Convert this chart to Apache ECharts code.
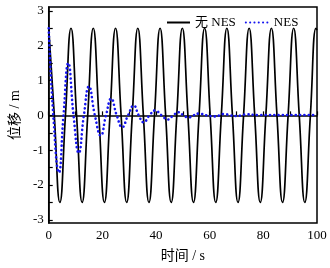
<!DOCTYPE html>
<html>
<head>
<meta charset="utf-8">
<script src="https://cdn.jsdelivr.net/npm/echarts@6/dist/echarts.min.js"></script>
<style>
  html, body { margin: 0; padding: 0; background: #fff; }
  #main { width: 330px; height: 268px; }
</style>
</head>
<body>
<div id="main"></div>
<script>
var seriesNames = ['无 NES', 'NES'];

// 无 NES: read at peaks, zero crossings and troughs
var noNesTime = [0, 2.08, 4.15, 6.23, 8.3, 10.38, 12.45, 14.53, 16.6, 18.68, 20.75, 22.83,
  24.9, 26.98, 29.05, 31.13, 33.2, 35.28, 37.35, 39.43, 41.5, 43.58, 45.65, 47.73,
  49.8, 51.88, 53.95, 56.03, 58.1, 60.18, 62.25, 64.33, 66.4, 68.48, 70.55, 72.63,
  74.7, 76.78, 78.85, 80.93, 83.0, 85.08, 87.15, 89.23, 91.3, 93.38, 95.45, 97.53, 99.6, 100];
var noNesValue = [2.5, 0, -2.5, 0, 2.5, 0, -2.5, 0, 2.5, 0, -2.5, 0,
  2.5, 0, -2.5, 0, 2.5, 0, -2.5, 0, 2.5, 0, -2.5, 0,
  2.5, 0, -2.5, 0, 2.5, 0, -2.5, 0, 2.5, 0, -2.5, 0,
  2.5, 0, -2.5, 0, 2.5, 0, -2.5, 0, 2.5, 0, -2.5, 0, 2.5, 2.45];

// NES: damped response
var nesTime = [0, 1.7, 3.8, 5.5, 7.3, 9.25, 11.2, 13.1, 15.0, 17.2, 19.4, 21.35, 23.3,
  25.35, 27.4, 29.55, 31.7, 33.55, 35.4, 37.55, 39.7, 42.05, 44.4, 46.4, 48.4,
  50.25, 52.1, 53.95, 55.8, 58.9, 62.0, 63.7, 65.4, 67.7, 70.0, 71.85, 73.7, 78, 100];
var nesValue = [2.5, 0, -1.64, 0, 1.5, 0, -1.08, 0, 0.83, 0, -0.58, 0, 0.48,
  0, -0.34, 0, 0.28, 0, -0.2, 0, 0.14, 0, -0.12, 0, 0.09,
  0, -0.06, 0, 0.05, 0, -0.03, 0, 0.04, 0, -0.02, 0, 0.03, 0.01, 0.01];

var yTicks = [-3, -2.5, -2, -1.5, -1, -0.5, 0, 0.5, 1, 1.5, 2, 2.5, 3];
var yLabels = [-3, -2, -1, 0, 1, 2, 3];

function pairs(xs, ys) {
  return xs.map(function (x, i) { return [x, ys[i]]; });
}

var font = '"Liberation Serif", "Noto Sans CJK SC", serif';
var chart = echarts.init(document.getElementById('main'));

var option = {
  animation: false,
  grid: {
    left: 47.7, right: 13, top: 7, bottom: 45,
    show: true, borderColor: '#000', borderWidth: 1.5
  },
  legend: {
    data: seriesNames,
    left: 161, top: 11,
    itemWidth: 23, itemHeight: 14, itemGap: 9,
    itemStyle: { opacity: 0 },
    textStyle: { fontFamily: font, fontSize: 13, color: '#000' }
  },
  xAxis: {
    type: 'value',
    min: 0, max: 100, interval: 10,
    name: '时间 / s',
    nameLocation: 'middle',
    nameGap: 26,
    nameTextStyle: { fontFamily: font, fontSize: 14, color: '#000' },
    axisLine: { lineStyle: { color: '#000', width: 1.5 } },
    axisTick: { inside: true, length: 4, lineStyle: { color: '#000', width: 1.2 } },
    axisLabel: {
      margin: 6, fontFamily: font, fontSize: 13, color: '#000',
      formatter: function (v) { return v % 20 === 0 ? v : ''; }
    },
    splitLine: { show: false }
  },
  yAxis: {
    type: 'value',
    min: -3.09, max: 3.11,
    name: '位移 / m',
    nameLocation: 'middle',
    nameGap: 26,
    nameTextStyle: { fontFamily: font, fontSize: 14, color: '#000' },
    axisLine: { show: true, lineStyle: { color: '#000', width: 1.5 } },
    axisTick: { inside: true, length: 4, customValues: yTicks, lineStyle: { color: '#000', width: 1.2 } },
    axisLabel: { margin: 5, fontFamily: font, fontSize: 13, color: '#000', customValues: yLabels },
    splitLine: { show: false }
  },
  series: [
    {
      name: seriesNames[0],
      type: 'line',
      data: pairs(noNesTime, noNesValue),
      smooth: 0.5,
      symbol: 'none',
      lineStyle: { color: '#000', width: 1.7 },
      itemStyle: { color: '#000' }
    },
    {
      name: seriesNames[1],
      type: 'line',
      data: pairs(nesTime, nesValue),
      smooth: 0.5,
      symbol: 'none',
      z: 3,
      lineStyle: { color: '#1515f0', width: 2.6, type: [0.1, 4.2], cap: 'round' },
      itemStyle: { color: '#1515f0' }
    }
  ]
};
chart.setOption(option);
</script>
</body>
</html>
